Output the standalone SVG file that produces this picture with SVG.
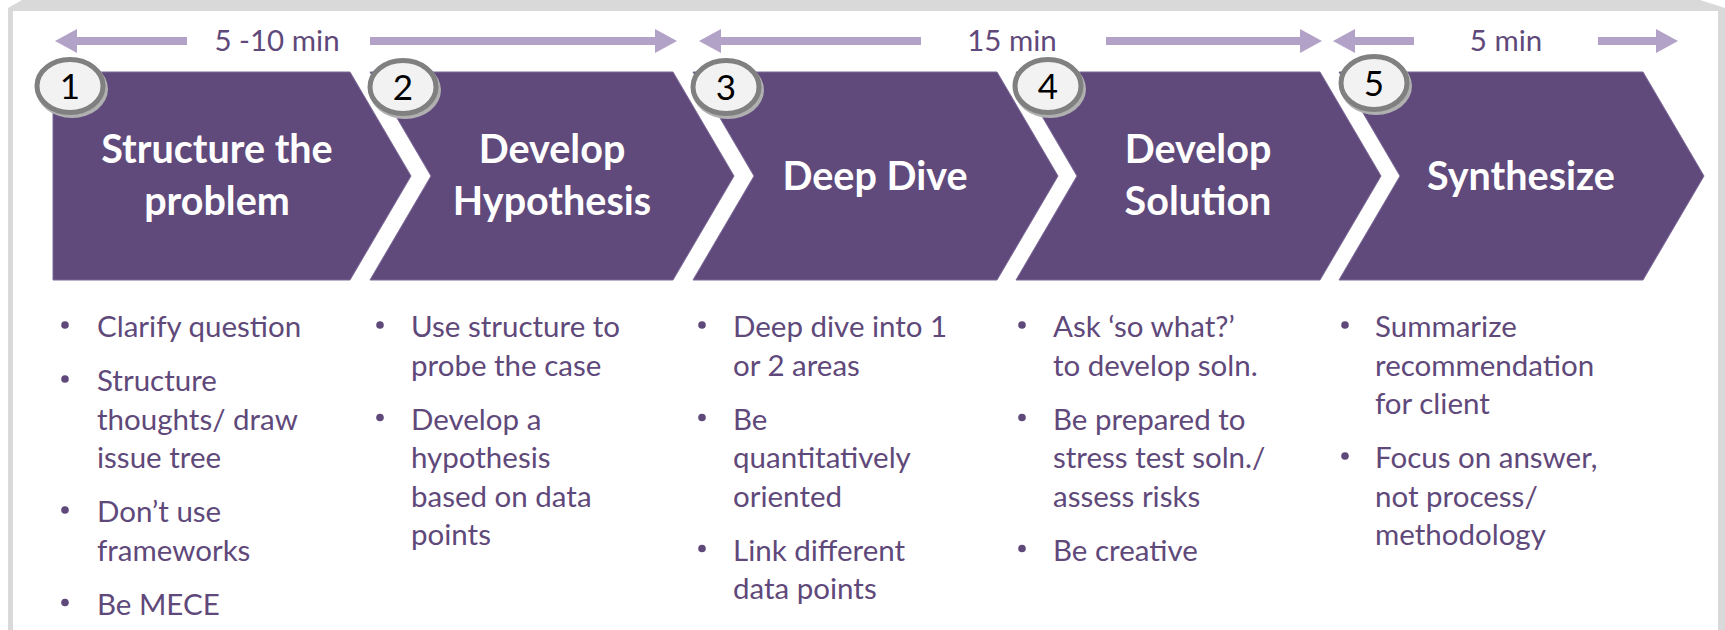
<svg xmlns="http://www.w3.org/2000/svg" width="1725" height="630" viewBox="0 0 1725 630">
<style>
.frame{fill:#d9d9d9}
.chev{fill:#604a7b;stroke:#7d6a99;stroke-width:1}
.title{font-family:Lato,"Open Sans",sans-serif;font-weight:bold;font-size:39.5px;fill:#ffffff;text-anchor:middle}
.badge{fill:#f2f2f2;stroke:#808080;stroke-width:5}
.badge-sh{fill:#b0b0b0}
.num{font-family:Lato,"Open Sans",sans-serif;font-size:35px;fill:#000000;text-anchor:middle}
.body{font-family:Lato,"Open Sans",sans-serif;font-size:29.5px;fill:#5f497a}
.dot{fill:#5f497a}
.span{fill:#b3a2c7}
.lbl{font-family:Lato,"Open Sans",sans-serif;font-size:29.5px;fill:#5f497a;text-anchor:middle}
</style>
<rect x="0" y="0" width="1725" height="630" fill="#ffffff"/>
<path class="frame" d="M8,630 V8 L22,0 H1700 L1725,8 V630 H1718 V11 H13 V630 Z"/>

<g id="timeline-arrows">
  <polygon class="span" points="55,41 77,29 77,37 187,37 187,45 77,45 77,53"/>
  <polygon class="span" points="677,41 655,29 655,37 370,37 370,45 655,45 655,53"/>
  <text class="lbl" x="277" y="51">5 -10 min</text>
  <polygon class="span" points="699,41 721,29 721,37 921,37 921,45 721,45 721,53"/>
  <polygon class="span" points="1322,41 1300,29 1300,37 1106,37 1106,45 1300,45 1300,53"/>
  <text class="lbl" x="1012" y="51">15 min</text>
  <polygon class="span" points="1333,41 1355,29 1355,37 1414,37 1414,45 1355,45 1355,53"/>
  <polygon class="span" points="1678,41 1656,29 1656,37 1598,37 1598,45 1656,45 1656,53"/>
  <text class="lbl" x="1506" y="51">5 min</text>
</g>

<g id="step1">
  <path class="chev" d="M53,72 H350 L411,176 L350,280 H53 Z"/>
  <text class="title" x="217" y="163">Structure the</text>
  <text class="title" x="217" y="215">problem</text>
  <ellipse class="badge-sh" cx="72" cy="89" rx="36" ry="29"/>
  <ellipse class="badge" cx="70" cy="86" rx="33" ry="26.5"/>
  <text class="num" x="70" y="99">1</text>
  <circle class="dot" cx="65" cy="325" r="3.8"/>
  <text class="body" x="97" y="337">Clarify question</text>
  <circle class="dot" cx="65" cy="379" r="3.8"/>
  <text class="body" x="97" y="391">Structure</text>
  <text class="body" x="97" y="429.5">thoughts/ draw</text>
  <text class="body" x="97" y="468">issue tree</text>
  <circle class="dot" cx="65" cy="510" r="3.8"/>
  <text class="body" x="97" y="522">Don’t use</text>
  <text class="body" x="97" y="560.5">frameworks</text>
  <circle class="dot" cx="65" cy="602.5" r="3.8"/>
  <text class="body" x="97" y="614.5">Be MECE</text>
</g>

<g id="step2">
  <path class="chev" d="M370,72 H673 L734,176 L673,280 H370 L431,176 Z"/>
  <text class="title" x="552" y="163">Develop</text>
  <text class="title" x="552" y="215">Hypothesis</text>
  <ellipse class="badge-sh" cx="405" cy="90" rx="36" ry="29"/>
  <ellipse class="badge" cx="403" cy="87" rx="33" ry="26.5"/>
  <text class="num" x="403" y="100">2</text>
  <circle class="dot" cx="380" cy="325" r="3.8"/>
  <text class="body" x="411" y="337">Use structure to</text>
  <text class="body" x="411" y="375.5">probe the case</text>
  <circle class="dot" cx="380" cy="417.5" r="3.8"/>
  <text class="body" x="411" y="429.5">Develop a</text>
  <text class="body" x="411" y="468">hypothesis</text>
  <text class="body" x="411" y="506.5">based on data</text>
  <text class="body" x="411" y="545">points</text>
</g>

<g id="step3">
  <path class="chev" d="M693,72 H997 L1058,176 L997,280 H693 L754,176 Z"/>
  <text class="title" x="875" y="190">Deep Dive</text>
  <ellipse class="badge-sh" cx="728" cy="90" rx="36" ry="29"/>
  <ellipse class="badge" cx="726" cy="87" rx="33" ry="26.5"/>
  <text class="num" x="726" y="100">3</text>
  <circle class="dot" cx="702" cy="325" r="3.8"/>
  <text class="body" x="733" y="337">Deep dive into 1</text>
  <text class="body" x="733" y="375.5">or 2 areas</text>
  <circle class="dot" cx="702" cy="417.5" r="3.8"/>
  <text class="body" x="733" y="429.5">Be</text>
  <text class="body" x="733" y="468">quantitatively</text>
  <text class="body" x="733" y="506.5">oriented</text>
  <circle class="dot" cx="702" cy="548.5" r="3.8"/>
  <text class="body" x="733" y="560.5">Link different</text>
  <text class="body" x="733" y="599">data points</text>
</g>

<g id="step4">
  <path class="chev" d="M1016,72 H1320 L1381,176 L1320,280 H1016 L1077,176 Z"/>
  <text class="title" x="1198" y="163">Develop</text>
  <text class="title" x="1198" y="215">Solution</text>
  <ellipse class="badge-sh" cx="1050" cy="89" rx="36" ry="29"/>
  <ellipse class="badge" cx="1048" cy="86" rx="33" ry="26.5"/>
  <text class="num" x="1048" y="99">4</text>
  <circle class="dot" cx="1022" cy="325" r="3.8"/>
  <text class="body" x="1053" y="337">Ask ‘so what?’</text>
  <text class="body" x="1053" y="375.5">to develop soln.</text>
  <circle class="dot" cx="1022" cy="417.5" r="3.8"/>
  <text class="body" x="1053" y="429.5">Be prepared to</text>
  <text class="body" x="1053" y="468">stress test soln./</text>
  <text class="body" x="1053" y="506.5">assess risks</text>
  <circle class="dot" cx="1022" cy="548.5" r="3.8"/>
  <text class="body" x="1053" y="560.5">Be creative</text>
</g>

<g id="step5">
  <path class="chev" d="M1339,72 H1643 L1704,176 L1643,280 H1339 L1400,176 Z"/>
  <text class="title" x="1521" y="190">Synthesize</text>
  <ellipse class="badge-sh" cx="1376" cy="86" rx="36" ry="29"/>
  <ellipse class="badge" cx="1374" cy="83" rx="33" ry="26.5"/>
  <text class="num" x="1374" y="96">5</text>
  <circle class="dot" cx="1345" cy="325" r="3.8"/>
  <text class="body" x="1375" y="337">Summarize</text>
  <text class="body" x="1375" y="375.5">recommendation</text>
  <text class="body" x="1375" y="414">for client</text>
  <circle class="dot" cx="1345" cy="456" r="3.8"/>
  <text class="body" x="1375" y="468">Focus on answer,</text>
  <text class="body" x="1375" y="506.5">not process/</text>
  <text class="body" x="1375" y="545">methodology</text>
</g>
</svg>
